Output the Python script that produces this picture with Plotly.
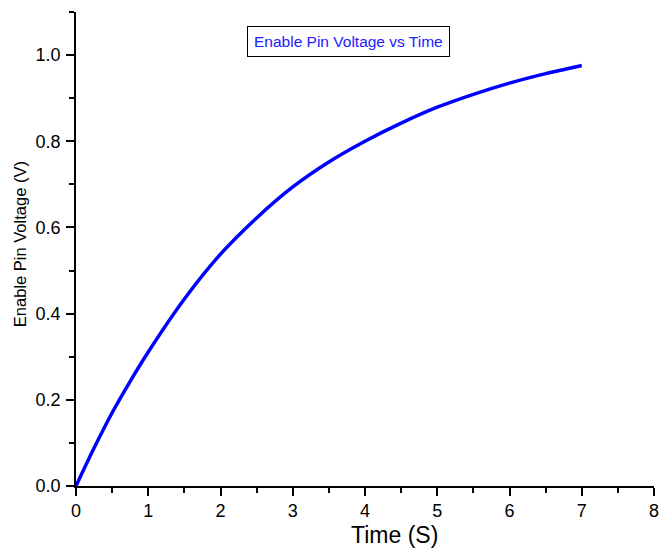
import plotly.graph_objects as go

# Enable pin charging curve
time_s = [0, 0.25, 0.5, 0.75, 1, 1.5, 2, 2.5, 3, 3.5, 4, 4.5, 5, 5.5, 6, 6.5, 7]
voltage_v = [0, 0.088, 0.170, 0.243, 0.311, 0.434, 0.538, 0.622, 0.694,
             0.752, 0.800, 0.842, 0.879, 0.909, 0.935, 0.957, 0.976]

x_ticks = [0, 1, 2, 3, 4, 5, 6, 7, 8]
y_ticks = [0.0, 0.2, 0.4, 0.6, 0.8, 1.0]
y_tick_text = ["0.0", "0.2", "0.4", "0.6", "0.8", "1.0"]

FONT = "Arial, 'Liberation Sans', sans-serif"

fig = go.Figure()
fig.add_trace(go.Scatter(
    x=time_s, y=voltage_v, mode="lines",
    line=dict(color="#0000ff", width=3.5, shape="spline", smoothing=0.8),
    showlegend=False, hoverinfo="skip",
))

axis_common = dict(
    showline=True, linecolor="black", linewidth=1.5, mirror=False,
    showgrid=False, zeroline=False,
    ticks="outside", ticklen=8, tickwidth=1.5, tickcolor="black",
    tickfont=dict(family=FONT, size=18, color="black"),
    ticklabeloverflow="allow",
)

fig.update_layout(
    width=663, height=548,
    margin=dict(l=76, r=4, t=12, b=62),
    paper_bgcolor="white", plot_bgcolor="white",
    xaxis=dict(range=[0, 8], tickvals=x_ticks,
               minor=dict(ticks="outside", ticklen=5, tickwidth=1.5,
                          tickcolor="black", dtick=0.5, tick0=0),
               **axis_common),
    yaxis=dict(range=[0, 1.1], tickvals=y_ticks, ticktext=y_tick_text,
               ticklabelstandoff=2,
               minor=dict(ticks="outside", ticklen=5, tickwidth=1.5,
                          tickcolor="black", dtick=0.1, tick0=0),
               **axis_common),
    annotations=[
        dict(text="Enable Pin Voltage vs Time", xref="paper", yref="paper",
             x=(351 - 76) / 583, y=0.937, xanchor="center", yanchor="middle",
             showarrow=False, font=dict(family=FONT, size=15.5, color="#2020ff"),
             bordercolor="black", borderwidth=1, borderpad=6, bgcolor="white"),
        dict(text="Time (S)", xref="paper", yref="paper",
             x=(397 - 76) / 583, y=(486 - 535) / 474.3,
             xanchor="center", yanchor="middle", showarrow=False,
             font=dict(family=FONT, size=23, color="black")),
        dict(text="Enable Pin Voltage (V)", xref="paper", yref="paper",
             x=(19 - 76) / 583, y=(486 - 243.5) / 474.3, textangle=-90,
             xanchor="center", yanchor="middle", showarrow=False,
             font=dict(family=FONT, size=16.5, color="black")),
    ],
)

fig.write_html("out.html")
